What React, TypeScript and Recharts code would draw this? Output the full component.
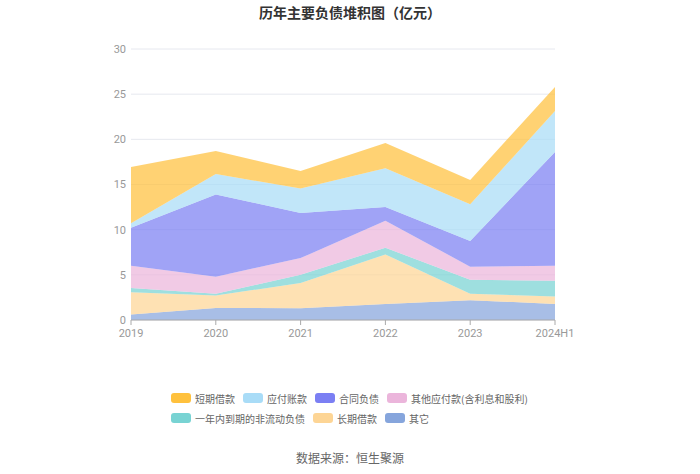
import React from "react";
import { AreaChart, Area, XAxis, YAxis, CartesianGrid } from "recharts";

const years = ["2019", "2020", "2021", "2022", "2023", "2024H1"];

// 亿元, bottom of the stack first
const other = [0.6, 1.33, 1.3, 1.78, 2.2, 1.78];
const longLoan = [2.47, 1.37, 2.8, 5.47, 0.7, 0.82];
const currentNonCurrent = [0.48, 0.2, 0.9, 0.75, 1.55, 1.75];
const otherPayables = [2.45, 1.9, 1.85, 3.0, 1.45, 1.65];
const contractLiab = [4.2, 9.1, 5.0, 1.5, 2.85, 12.6];
const accountsPayable = [0.5, 2.25, 2.7, 4.3, 4.05, 4.55];
const shortLoan = [6.25, 2.55, 1.95, 2.8, 2.7, 2.65];

const yTicks = [0, 5, 10, 15, 20, 25, 30];

const series = [
  { key: "other", name: "其它", values: other, color: "#86a5dc" },
  { key: "longLoan", name: "长期借款", values: longLoan, color: "#fdd595" },
  { key: "currentNonCurrent", name: "一年内到期的非流动负债", values: currentNonCurrent, color: "#78d3d3" },
  { key: "otherPayables", name: "其他应付款(含利息和股利)", values: otherPayables, color: "#ebb5db" },
  { key: "contractLiab", name: "合同负债", values: contractLiab, color: "#7b7ff3" },
  { key: "accountsPayable", name: "应付账款", values: accountsPayable, color: "#a9dcf7" },
  { key: "shortLoan", name: "短期借款", values: shortLoan, color: "#ffc13d" },
];

const legendRows = [
  ["shortLoan", "accountsPayable", "contractLiab", "otherPayables"],
  ["currentNonCurrent", "longLoan", "other"],
];

const data = years.map((year, i) => {
  const row: Record<string, string | number> = { year };
  series.forEach((s) => (row[s.key] = s.values[i]));
  return row;
});

const font = '"Noto Sans CJK SC", "Noto Sans", sans-serif';
const tickFont = "Roboto, sans-serif";

const App: React.FC = () => (
  <div style={{ position: "absolute", left: 0, top: 0, width: 700, height: 474, background: "#fff", fontFamily: font }}>
    <div
      style={{
        position: "absolute",
        top: 2,
        width: 700,
        textAlign: "center",
        fontSize: 14,
        fontWeight: 700,
        color: "#333",
      }}
    >
      历年主要负债堆积图（亿元）
    </div>
    <AreaChart
      width={700}
      height={474}
      data={data}
      margin={{ top: 49, right: 145, left: 0, bottom: 134 }}
      style={{ fontFamily: font }}
    >
      <CartesianGrid vertical={false} stroke="#e6e8ef" />
      <XAxis
        dataKey="year"
        tick={{ fontSize: 11, fill: "#999", fontFamily: tickFont }}
        axisLine={{ stroke: "#aaa" }}
        tickLine={{ stroke: "#aaa" }}
        tickSize={5}
        tickMargin={4}
        interval={0}
        height={20}
      />
      <YAxis
        domain={[0, 30]}
        ticks={yTicks}
        tick={{ fontSize: 11, fill: "#999", fontFamily: tickFont }}
        axisLine={false}
        tickLine={false}
        tickSize={5}
        tickMargin={0}
        width={131}
      />
      {series.map((s) => (
        <Area
          key={s.key}
          type="linear"
          dataKey={s.key}
          name={s.name}
          stackId="a"
          stroke="none"
          fill={s.color}
          fillOpacity={0.72}
          isAnimationActive={false}
        />
      ))}
    </AreaChart>
    {legendRows.map((row, r) => (
      <div
        key={r}
        style={{
          position: "absolute",
          left: 171,
          top: 391 + r * 20,
          height: 14,
          display: "flex",
          alignItems: "center",
          fontSize: 10,
          color: "#666",
        }}
      >
        {row.map((k) => {
          const s = series.find((x) => x.key === k)!;
          return (
            <div key={k} style={{ display: "flex", alignItems: "center", marginRight: 8 }}>
              <span
                style={{
                  width: 20,
                  height: 10,
                  borderRadius: 3,
                  background: s.color,
                  marginRight: 4,
                  display: "inline-block",
                }}
              />
              <span>{s.name}</span>
            </div>
          );
        })}
      </div>
    ))}
    <div
      style={{
        position: "absolute",
        top: 449,
        width: 700,
        textAlign: "center",
        fontSize: 12,
        color: "#666",
      }}
    >
      数据来源：恒生聚源
    </div>
  </div>
);

export default App;
